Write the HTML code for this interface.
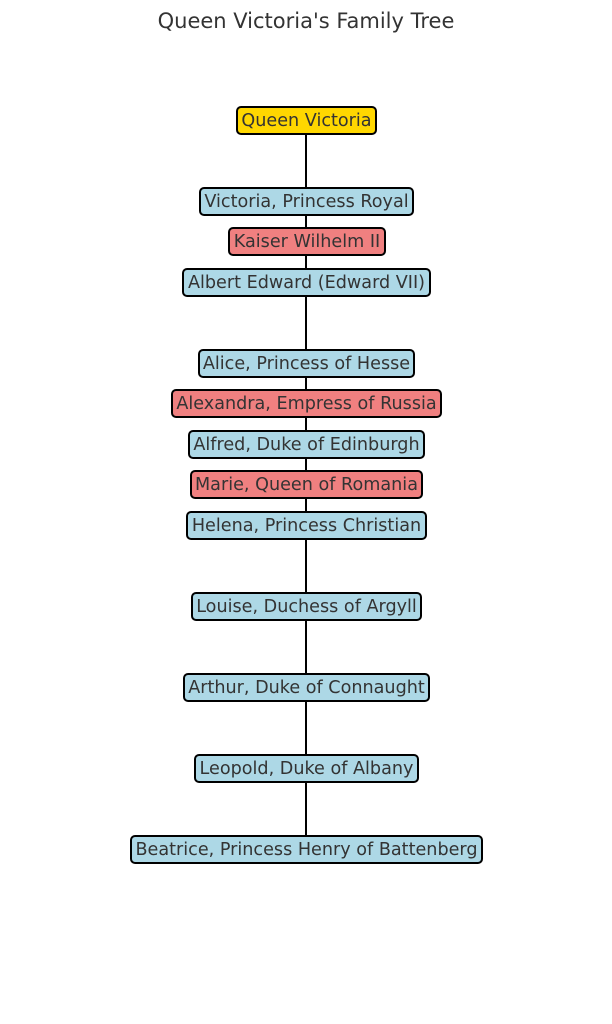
<!DOCTYPE html>
<html><head><style>
body{margin:0;width:612px;height:1024px;background:#fff;position:relative;font-family:"DejaVu Sans","Liberation Sans",sans-serif;overflow:hidden}
.t{position:absolute;top:9px;left:0;width:612px;text-align:center;font-size:21px;color:#333}
.l{position:absolute;left:305px;width:2px;top:134px;height:701px;background:#000}
.b{position:absolute;height:25px;line-height:26px;border:2px solid #000;border-radius:5px;box-sizing:content-box;text-align:center;font-size:17.6px;color:#333;background:#add8e6;white-space:nowrap}
.y{background:#ffd700}.r{background:#f08080}
</style></head><body>
<div class="t">Queen Victoria's Family Tree</div>
<div class="l"></div>
<div class="b y" style="left:236px;width:137px;top:106px">Queen Victoria</div>
<div class="b" style="left:199px;width:211px;top:187px">Victoria, Princess Royal</div>
<div class="b r" style="left:228px;width:154px;top:227px">Kaiser Wilhelm II</div>
<div class="b" style="left:182px;width:245px;top:268px">Albert Edward (Edward VII)</div>
<div class="b" style="left:198px;width:213px;top:349px">Alice, Princess of Hesse</div>
<div class="b r" style="left:171px;width:267px;top:389px">Alexandra, Empress of Russia</div>
<div class="b" style="left:188px;width:233px;top:430px">Alfred, Duke of Edinburgh</div>
<div class="b r" style="left:190px;width:229px;top:470px">Marie, Queen of Romania</div>
<div class="b" style="left:186px;width:237px;top:511px">Helena, Princess Christian</div>
<div class="b" style="left:191px;width:227px;top:592px">Louise, Duchess of Argyll</div>
<div class="b" style="left:183px;width:243px;top:673px">Arthur, Duke of Connaught</div>
<div class="b" style="left:194px;width:221px;top:754px">Leopold, Duke of Albany</div>
<div class="b" style="left:130px;width:349px;top:835px">Beatrice, Princess Henry of Battenberg</div>
</body></html>
